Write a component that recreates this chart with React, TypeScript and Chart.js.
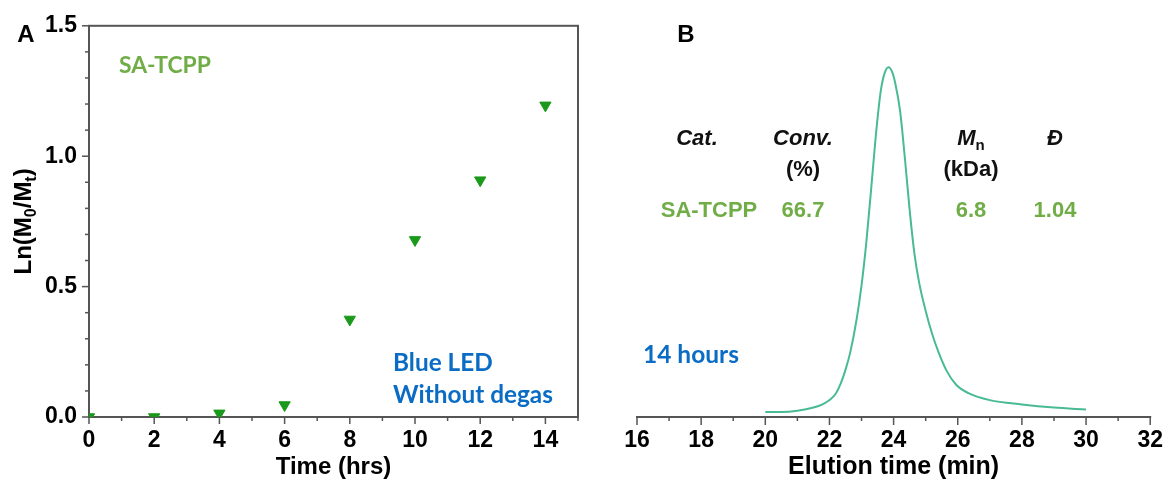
import React, { useEffect, useRef } from 'react';
import { Chart, registerables } from 'chart.js';

Chart.register(...registerables);

// ---------- Panel A data ----------
const timeHrs = [0, 2, 4, 6, 8, 10, 12, 14];
const lnM0Mt = [0, 0, 0.014, 0.046, 0.374, 0.679, 0.908, 1.195];

// ---------- Panel B data ----------
const elutionTime = [
  20, 20.5, 21, 21.5, 21.8, 22, 22.2, 22.35, 22.5, 22.65, 22.85, 23.0, 23.15, 23.3, 23.45,
  23.6, 23.72, 23.84, 23.96, 24.05, 24.2, 24.35, 24.5, 24.65, 24.8, 25.0, 25.2, 25.4, 25.65,
  25.95, 26.35, 27.0, 28.0, 29.0, 30.0,
];
const riSignal = [
  0.013, 0.013, 0.016, 0.024, 0.033, 0.043, 0.06, 0.085, 0.12, 0.165, 0.25, 0.335, 0.445, 0.58,
  0.72, 0.83, 0.875, 0.89, 0.877, 0.85, 0.78, 0.66, 0.527, 0.415, 0.34, 0.27, 0.212, 0.165,
  0.118, 0.082, 0.06, 0.043, 0.032, 0.024, 0.019,
];

// Table in panel B
const tableHeaders = ['Cat.', 'Conv.', 'Mn', 'Đ'];
const tableUnits = ['', '(%)', '(kDa)', ''];
const tableRow = ['SA-TCPP', '66.7', '6.8', '1.04'];

const ARIAL = "'Liberation Sans', Arial, Helvetica, sans-serif";
const CALIBRI = "Lato, 'Open Sans', sans-serif";
const AXIS_COLOR = '#555555';
const MARKER_GREEN = '#1a991a';
const TEXT_GREEN = '#70ad47';
const TEXT_BLUE = '#0a6cc4';
const CURVE = '#48bb92';

const tickFont = { family: ARIAL, size: 23, weight: 'bold' as const };
const titleFont = { family: ARIAL, size: 24, weight: 'bold' as const };

function fitText(
  ctx: CanvasRenderingContext2D,
  text: string,
  targetWidth: number,
  family: string,
  weight: string
): number {
  ctx.font = `${weight} 20px ${family}`;
  const w = ctx.measureText(text).width;
  return (20 * targetWidth) / w;
}

const panelAPlugin = {
  id: 'panelA',
  beforeDatasetsDraw(chart: any) {
    const { ctx, chartArea: ca, scales } = chart;
    const x = scales.x;
    const y = scales.y;
    ctx.save();
    ctx.strokeStyle = AXIS_COLOR;
    ctx.lineWidth = 2;
    ctx.strokeRect(ca.left, ca.top, ca.right - ca.left, ca.bottom - ca.top);
    ctx.lineWidth = 1.5;
    x.ticks.forEach((t: any) => {
      const px = x.getPixelForValue(t.value);
      const major = Math.round(t.value) % 2 === 0;
      ctx.beginPath();
      ctx.moveTo(px, ca.bottom);
      ctx.lineTo(px, ca.bottom + (major ? 7 : 4));
      ctx.stroke();
    });
    y.ticks.forEach((t: any) => {
      const py = y.getPixelForValue(t.value);
      const major = Math.abs(t.value * 2 - Math.round(t.value * 2)) < 1e-6;
      ctx.beginPath();
      ctx.moveTo(ca.left, py);
      ctx.lineTo(ca.left - (major ? 7 : 4), py);
      ctx.stroke();
    });
    ctx.restore();
  },
  afterDraw(chart: any) {
    const { ctx, chartArea: ca } = chart;
    ctx.save();
    ctx.textBaseline = 'alphabetic';
    // panel letter
    ctx.fillStyle = '#000';
    ctx.font = `bold 24px ${ARIAL}`;
    ctx.textAlign = 'center';
    ctx.fillText('A', 26, 42);

    // y-axis title with subscripts
    const big = 24;
    const small = 16;
    const parts: [string, boolean][] = [
      ['Ln(M', false],
      ['0', true],
      ['/M', false],
      ['t', true],
      [')', false],
    ];
    let total = 0;
    parts.forEach(([s, sub]) => {
      ctx.font = `bold ${sub ? small : big}px ${ARIAL}`;
      total += ctx.measureText(s).width;
    });
    ctx.translate(31, (ca.top + ca.bottom) / 2);
    ctx.rotate(-Math.PI / 2);
    ctx.textAlign = 'left';
    let cx = -total / 2;
    parts.forEach(([s, sub]) => {
      ctx.font = `bold ${sub ? small : big}px ${ARIAL}`;
      ctx.fillText(s, cx, sub ? 5 : 0);
      cx += ctx.measureText(s).width;
    });
    ctx.setTransform(1, 0, 0, 1, 0, 0);

    // annotations
    ctx.textAlign = 'left';
    let size = fitText(ctx, 'SA-TCPP', 92, CALIBRI, 'bold');
    ctx.font = `bold ${size}px ${CALIBRI}`;
    ctx.fillStyle = TEXT_GREEN;
    ctx.fillText('SA-TCPP', 119, 73);

    size = fitText(ctx, 'Without degas', 160, CALIBRI, 'bold');
    ctx.font = `bold ${size}px ${CALIBRI}`;
    ctx.fillStyle = TEXT_BLUE;
    ctx.fillText('Blue LED', 393, 370.5);
    ctx.fillText('Without degas', 393, 403);
    ctx.restore();
  },
};

const panelBPlugin = {
  id: 'panelB',
  beforeDatasetsDraw(chart: any) {
    const { ctx, chartArea: ca, scales } = chart;
    const x = scales.x;
    ctx.save();
    ctx.strokeStyle = AXIS_COLOR;
    ctx.lineWidth = 2;
    ctx.beginPath();
    ctx.moveTo(ca.left - 1, ca.bottom);
    ctx.lineTo(ca.right + 1, ca.bottom);
    ctx.stroke();
    ctx.lineWidth = 1.5;
    x.ticks.forEach((t: any) => {
      const px = x.getPixelForValue(t.value);
      const major = Math.round(t.value) % 2 === 0;
      ctx.beginPath();
      ctx.moveTo(px, ca.bottom);
      ctx.lineTo(px, ca.bottom + (major ? 8 : 4));
      ctx.stroke();
    });
    ctx.restore();
  },
  afterDraw(chart: any) {
    const { ctx } = chart;
    ctx.save();
    ctx.textBaseline = 'alphabetic';
    ctx.fillStyle = '#000';
    ctx.font = `bold 24px ${ARIAL}`;
    ctx.textAlign = 'center';
    ctx.fillText('B', 86, 42);

    const colX = [97, 203, 371, 455];
    // headers
    ctx.fillStyle = '#111';
    tableHeaders.forEach((h, i) => {
      if (h === 'Mn') {
        ctx.font = `italic bold 22px ${ARIAL}`;
        const wM = ctx.measureText('M').width;
        ctx.font = `bold 15px ${ARIAL}`;
        const wn = ctx.measureText('n').width;
        const start = colX[i] - (wM + wn) / 2;
        ctx.textAlign = 'left';
        ctx.font = `italic bold 22px ${ARIAL}`;
        ctx.fillText('M', start, 145);
        ctx.font = `bold 15px ${ARIAL}`;
        ctx.fillText('n', start + wM, 150);
      } else {
        ctx.textAlign = 'center';
        ctx.font = `italic bold 22px ${ARIAL}`;
        ctx.fillText(h, colX[i], 145);
      }
    });
    ctx.textAlign = 'center';
    ctx.font = `bold 22px ${ARIAL}`;
    tableUnits.forEach((u, i) => {
      if (u) ctx.fillText(u, colX[i], 176);
    });
    ctx.fillStyle = TEXT_GREEN;
    tableRow.forEach((v, i) => {
      ctx.fillText(v, colX[i] + (i === 0 ? 12 : 0), 216.5);
    });

    ctx.textAlign = 'left';
    const size = fitText(ctx, '14 hours', 96, CALIBRI, 'bold');
    ctx.font = `bold ${size}px ${CALIBRI}`;
    ctx.fillStyle = TEXT_BLUE;
    ctx.fillText('14 hours', 43, 363);
    ctx.restore();
  },
};

export default function App() {
  const refA = useRef<HTMLCanvasElement>(null);
  const refB = useRef<HTMLCanvasElement>(null);

  useEffect(() => {
    const chartA = new Chart(refA.current as HTMLCanvasElement, {
      type: 'scatter',
      data: {
        datasets: [
          {
            data: timeHrs.map((t, i) => ({ x: t, y: lnM0Mt[i] })),
            pointStyle: 'triangle',
            pointRotation: 180,
            pointRadius: 6.5,
            pointBackgroundColor: MARKER_GREEN,
            pointBorderColor: MARKER_GREEN,
            pointBorderWidth: 1,
            clip: 0,
          } as any,
        ],
      },
      options: {
        responsive: false,
        animation: false,
        devicePixelRatio: 1,
        events: [],
        layout: { padding: { top: 24, right: 22, left: 0, bottom: 0 } },
        plugins: { legend: { display: false }, tooltip: { enabled: false } },
        scales: {
          x: {
            type: 'linear',
            min: 0,
            max: 15,
            afterFit: (s: any) => {
              s.height = 65;
            },
            grid: { display: false, drawTicks: false },
            border: { display: false },
            ticks: {
              stepSize: 1,
              autoSkip: false,
              maxRotation: 0,
              padding: 10,
              color: '#000',
              font: tickFont,
              callback: (v: any) => (Math.round(v) % 2 === 0 ? String(v) : ''),
            },
            title: { display: true, text: 'Time (hrs)', color: '#000', font: titleFont, padding: 0 },
          },
          y: {
            type: 'linear',
            min: 0,
            max: 1.5,
            afterFit: (s: any) => {
              s.width = 89;
            },
            grid: { display: false, drawTicks: false },
            border: { display: false },
            ticks: {
              stepSize: 0.1,
              autoSkip: false,
              padding: 12,
              color: '#000',
              font: tickFont,
              callback: (v: any) =>
                Math.abs(v * 2 - Math.round(v * 2)) < 1e-6 ? Number(v).toFixed(1) : '',
            },
          },
        },
      },
      plugins: [panelAPlugin],
    } as any);

    const chartB = new Chart(refB.current as HTMLCanvasElement, {
      type: 'line',
      data: {
        datasets: [
          {
            data: elutionTime.map((t, i) => ({ x: t, y: riSignal[i] })),
            borderColor: CURVE,
            borderWidth: 2,
            pointRadius: 0,
            fill: false,
            cubicInterpolationMode: 'monotone',
          } as any,
        ],
      },
      options: {
        responsive: false,
        animation: false,
        devicePixelRatio: 1,
        events: [],
        layout: { padding: { top: 24, right: 15, left: 37, bottom: 0 } },
        plugins: { legend: { display: false }, tooltip: { enabled: false } },
        scales: {
          x: {
            type: 'linear',
            min: 16,
            max: 32,
            afterFit: (s: any) => {
              s.height = 65;
            },
            grid: { display: false, drawTicks: false },
            border: { display: false },
            ticks: {
              stepSize: 1,
              autoSkip: false,
              maxRotation: 0,
              padding: 10,
              color: '#000',
              font: tickFont,
              callback: (v: any) => (Math.round(v) % 2 === 0 ? String(v) : ''),
            },
            title: {
              display: true,
              text: 'Elution time (min)',
              color: '#000',
              font: { family: ARIAL, size: 25, weight: 'bold' },
              padding: 0,
            },
          },
          y: { type: 'linear', min: 0, max: 1, display: false },
        },
      },
      plugins: [panelBPlugin],
    } as any);

    return () => {
      chartA.destroy();
      chartB.destroy();
    };
  }, []);

  return (
    <div
      style={{
        position: 'fixed',
        left: 0,
        top: 0,
        width: 1173,
        height: 482,
        background: '#ffffff',
        overflow: 'hidden',
      }}
    >
      <canvas
        ref={refA}
        width={600}
        height={482}
        style={{ position: 'absolute', left: 0, top: 0, width: 600, height: 482 }}
      />
      <canvas
        ref={refB}
        width={573}
        height={482}
        style={{ position: 'absolute', left: 600, top: 0, width: 573, height: 482 }}
      />
    </div>
  );
}
